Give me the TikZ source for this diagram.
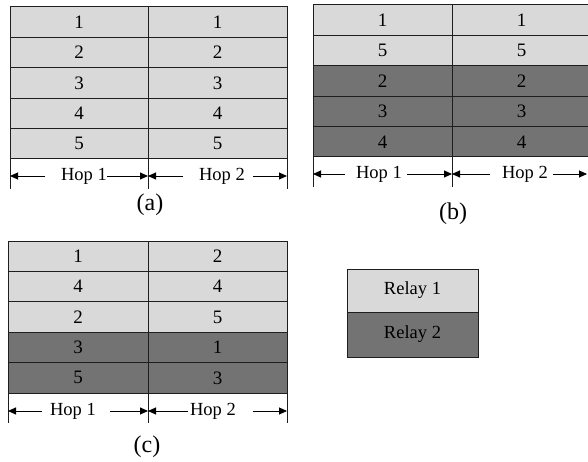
\documentclass[tikz,border=0pt]{standalone}
\usepackage{fontspec}
\setmainfont{Liberation Serif}
\usetikzlibrary{arrows.meta}
\definecolor{lightg}{RGB}{217,217,217}
\definecolor{darkg}{RGB}{115,115,115}
\definecolor{edge}{RGB}{30,30,30}
\begin{document}
\begin{tikzpicture}[x=1pt,y=-1pt,
  cell/.style={draw=edge,line width=1pt,inner sep=0pt,outer sep=0pt,font=\fontsize{19}{19}\selectfont},
  hoptext/.style={inner sep=0pt,font=\fontsize{18.5}{18.5}\selectfont},
  tick/.style={draw=edge,line width=0.9pt},
  harrow/.style={draw=black,line width=0.9pt,-{Triangle[length=8pt,width=7pt]}},
  caption/.style={inner sep=0pt,font=\fontsize{24}{24}\selectfont},
  legend/.style={draw=edge,line width=1pt,inner sep=0pt,minimum width=131pt,font=\fontsize{18.5}{18.5}\selectfont}]
\useasboundingbox (0,0) rectangle (588,462);
% ---------- table (a)
\foreach \l/\rr/\f [count=\i] in {1/1/lightg,2/2/lightg,3/3/lightg,4/4/lightg,5/5/lightg}{
  \node[cell,fill=\f,minimum width=138pt,minimum height=30.4pt] (a-\i-L) at (79,{7+30.4*(\i-0.5)}) {\l};
  \node[cell,fill=\f,minimum width=139pt,minimum height=30.4pt] (a-\i-R) at (217.5,{7+30.4*(\i-0.5)}) {\rr};
}
\coordinate (a-t0) at (10,189); \coordinate (a-t1) at (148,189); \coordinate (a-t2) at (287,189);
\draw[tick] (a-5-L.south west) -- (a-t0);
\draw[tick] (a-5-L.south east) -- (a-t1);
\draw[tick] (a-5-R.south east) -- (a-t2);
\node[hoptext] (a-h1) at (84,176) {Hop 1};
\node[hoptext] (a-h2) at (222,176) {Hop 2};
\coordinate (a-h1l) at (45,176); \coordinate (a-h1r) at (107,176);
\coordinate (a-h2l) at (183,176); \coordinate (a-h2r) at (253,176);
\coordinate (a-e0) at (10,176); \coordinate (a-e1) at (148,176); \coordinate (a-e2) at (287,176);
\draw[harrow] (a-h1l) -- (a-e0);
\draw[harrow] (a-h1r) -- (a-e1);
\draw[harrow] (a-h2l) -- (a-e1);
\draw[harrow] (a-h2r) -- (a-e2);
\node[caption] (a-cap) at (150,205) {(a)};
% ---------- table (b)
\foreach \l/\f [count=\i] in {1/lightg,5/lightg,2/darkg,3/darkg,4/darkg}{
  \node[cell,fill=\f,minimum width=139pt,minimum height=30.4pt] (b-\i-L) at (382.5,{5+30.4*(\i-0.5)}) {\l};
  \node[cell,fill=\f,minimum width=139pt,minimum height=30.4pt] (b-\i-R) at (521.5,{5+30.4*(\i-0.5)}) {\l};
}
\coordinate (b-t0) at (313,187); \coordinate (b-t1) at (452,187);
\draw[tick] (b-5-L.south west) -- (b-t0);
\draw[tick] (b-5-L.south east) -- (b-t1);
\node[hoptext] (b-h1) at (379,174) {Hop 1};
\node[hoptext] (b-h2) at (525,174) {Hop 2};
\coordinate (b-h1l) at (345,174); \coordinate (b-h1r) at (407,174);
\coordinate (b-h2l) at (490,174); \coordinate (b-h2r) at (553,174);
\coordinate (b-e0) at (313,174); \coordinate (b-e1) at (452,174); \coordinate (b-e2) at (587,174);
\draw[harrow] (b-h1l) -- (b-e0);
\draw[harrow] (b-h1r) -- (b-e1);
\draw[harrow] (b-h2l) -- (b-e1);
\draw[harrow] (b-h2r) -- (b-e2);
\node[caption] (b-cap) at (453,214) {(b)};
% ---------- table (c)
\foreach \l/\rr/\f [count=\i] in {1/2/lightg,4/4/lightg,2/5/lightg,3/1/darkg,5/3/darkg}{
  \node[cell,fill=\f,minimum width=140pt,minimum height=30.4pt] (c-\i-L) at (78,{241+30.4*(\i-0.5)}) {\l};
  \node[cell,fill=\f,minimum width=139pt,minimum height=30.4pt] (c-\i-R) at (217.5,{241+30.4*(\i-0.5)}) {\rr};
}
\coordinate (c-t0) at (8,423); \coordinate (c-t1) at (148,423); \coordinate (c-t2) at (287,423);
\draw[tick] (c-5-L.south west) -- (c-t0);
\draw[tick] (c-5-L.south east) -- (c-t1);
\draw[tick] (c-5-R.south east) -- (c-t2);
\node[hoptext] (c-h1) at (73,411) {Hop 1};
\node[hoptext] (c-h2) at (213,411) {Hop 2};
\coordinate (c-h1l) at (42,411); \coordinate (c-h1r) at (110,411);
\coordinate (c-h2l) at (188,411); \coordinate (c-h2r) at (253,411);
\coordinate (c-e0) at (8,411); \coordinate (c-e1) at (148,411); \coordinate (c-e2) at (287,411);
\draw[harrow] (c-h1l) -- (c-e0);
\draw[harrow] (c-h1r) -- (c-e1);
\draw[harrow] (c-h2l) -- (c-e1);
\draw[harrow] (c-h2r) -- (c-e2);
\node[caption] (c-cap) at (147,447) {(c)};
% ---------- legend
\node[legend,fill=lightg,minimum height=43pt] (r1) at (412.5,290.5) {Relay 1};
\node[legend,fill=darkg,minimum height=45pt] (r2) at (412.5,334.5) {Relay 2};
\end{tikzpicture}
\end{document}
